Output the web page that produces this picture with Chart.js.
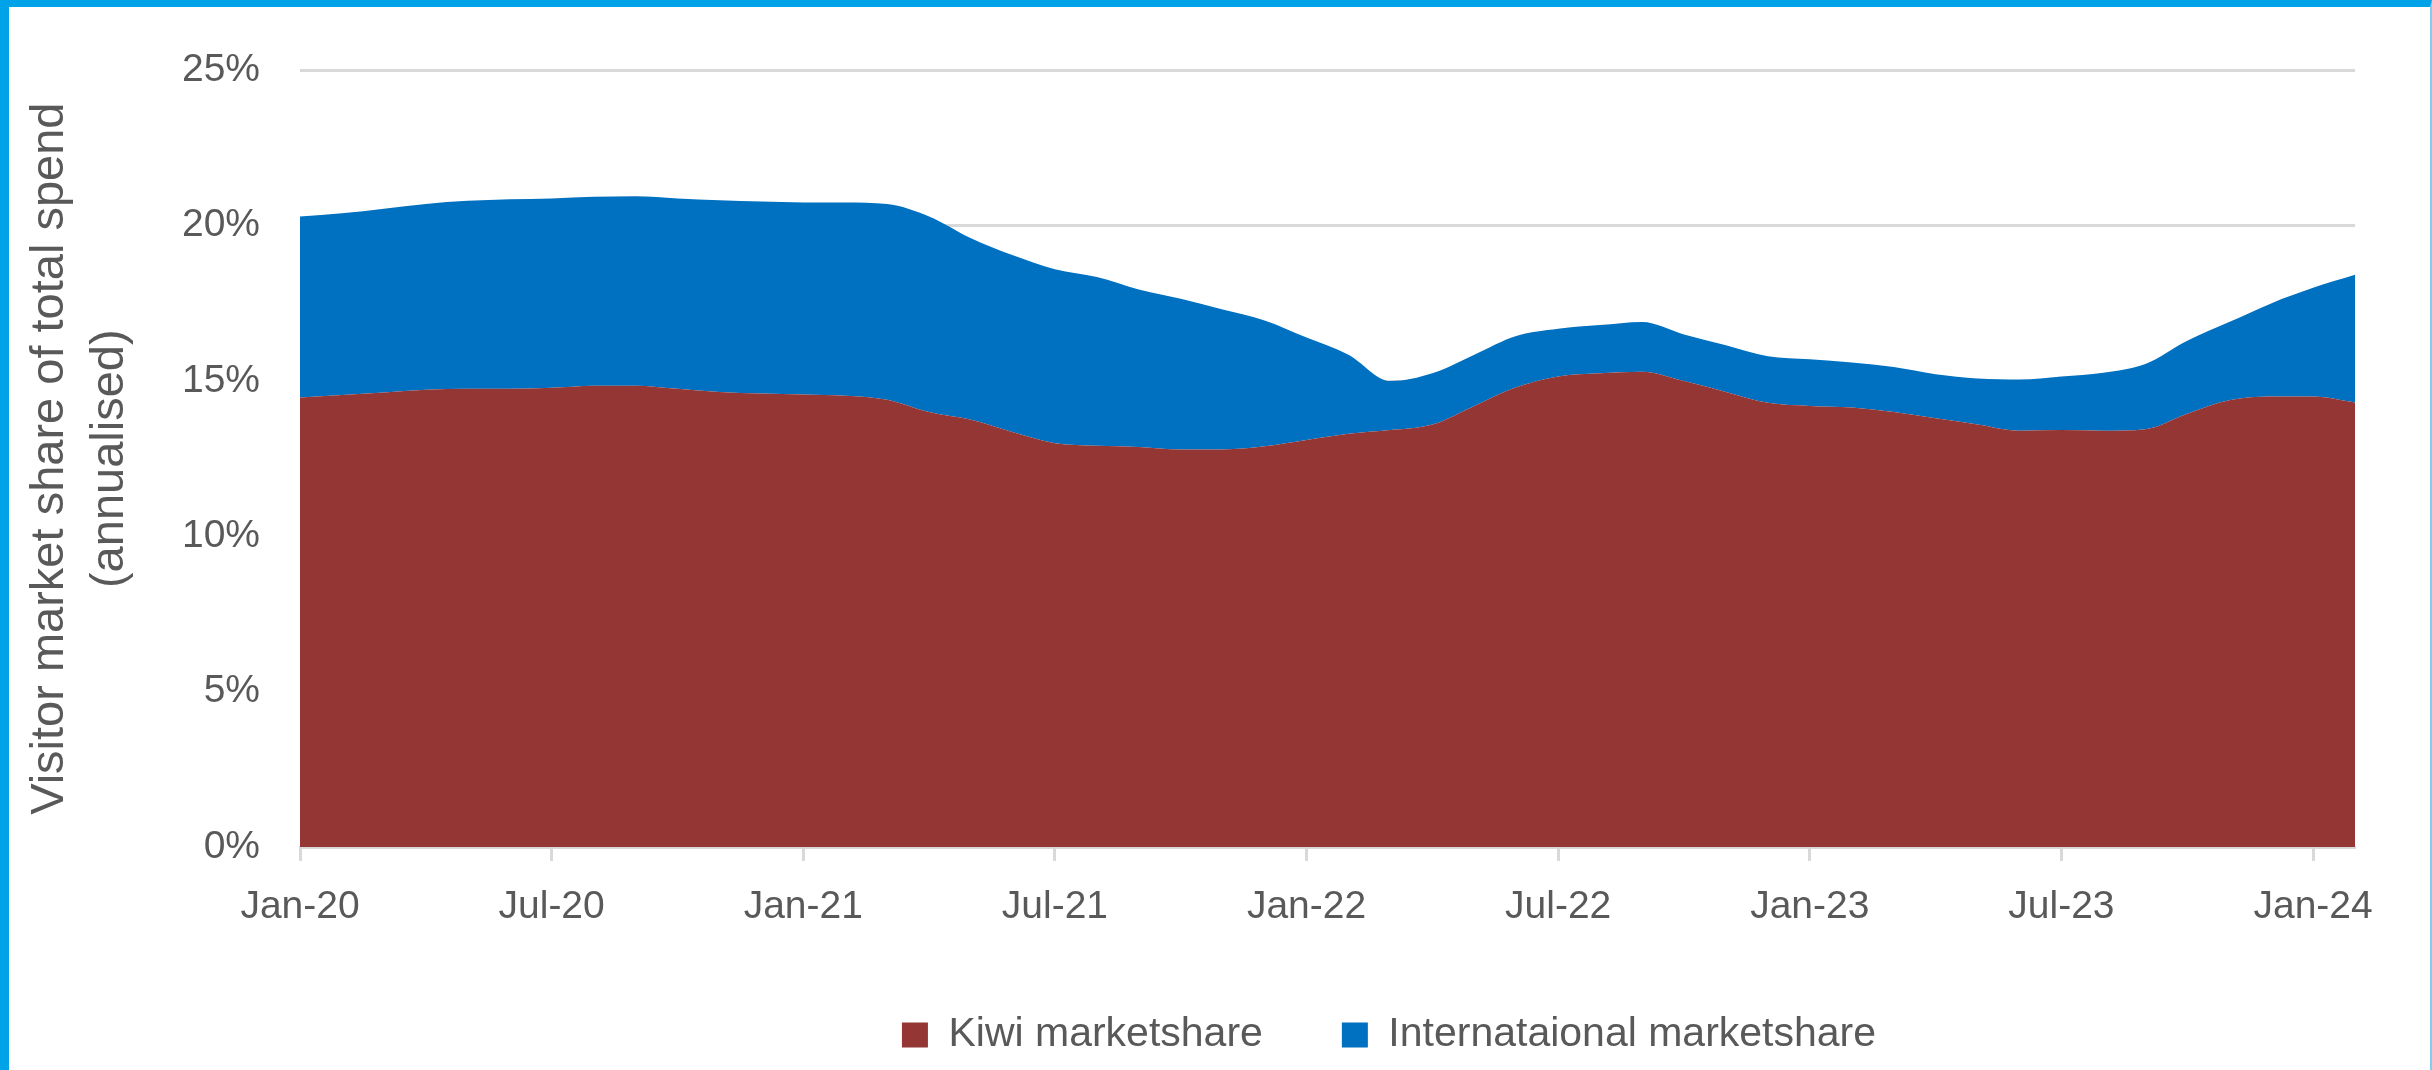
<!DOCTYPE html>
<html>
<head>
<meta charset="utf-8">
<script src="https://cdn.jsdelivr.net/npm/chart.js@4.4.0/dist/chart.umd.min.js"></script>
<style>
  html, body { margin: 0; padding: 0; background: #fff; }
  #frame {
    width: 2432px; height: 1070px; box-sizing: border-box; background: #fff;
    border-top: 7px solid #00A2E8; border-left: 9px solid #00A2E8; border-right: 2px solid #7FCDEF;
  }
  #wrap { position: relative; width: 2421px; height: 1063px; }
</style>
</head>
<body>
<div id="frame"><div id="wrap"><canvas id="myChart"></canvas></div></div>
<script>
// months Jan-20 .. Feb-24
const months = [
  'Jan-20','Feb-20','Mar-20','Apr-20','May-20','Jun-20','Jul-20','Aug-20','Sep-20','Oct-20','Nov-20','Dec-20',
  'Jan-21','Feb-21','Mar-21','Apr-21','May-21','Jun-21','Jul-21','Aug-21','Sep-21','Oct-21','Nov-21','Dec-21',
  'Jan-22','Feb-22','Mar-22','Apr-22','May-22','Jun-22','Jul-22','Aug-22','Sep-22','Oct-22','Nov-22','Dec-22',
  'Jan-23','Feb-23','Mar-23','Apr-23','May-23','Jun-23','Jul-23','Aug-23','Sep-23','Oct-23','Nov-23','Dec-23',
  'Jan-24','Feb-24'
];
const tickLabels = ['Jan-20','Jul-20','Jan-21','Jul-21','Jan-22','Jul-22','Jan-23','Jul-23','Jan-24'];

// Kiwi share (%) - top of the red area
const kiwiShare = [
  14.47, 14.55, 14.63, 14.72, 14.75, 14.75, 14.78, 14.85, 14.85, 14.75, 14.65, 14.6,
  14.57, 14.53, 14.4, 14.0, 13.75, 13.35, 13.0, 12.92, 12.88, 12.8, 12.8, 12.9,
  13.1, 13.3, 13.42, 13.6, 14.2, 14.8, 15.15, 15.25, 15.3, 15.0, 14.65, 14.3,
  14.2, 14.15, 14.0, 13.8, 13.6, 13.4, 13.42, 13.4, 13.45, 13.95, 14.38, 14.5,
  14.5, 14.31
];
// total visitor share (%) - top of the blue area (kiwi + international)
const totalShare = [
  20.3, 20.4, 20.55, 20.7, 20.8, 20.85, 20.88, 20.93, 20.95, 20.88, 20.82, 20.78,
  20.75, 20.75, 20.7, 20.3, 19.6, 19.05, 18.6, 18.35, 17.95, 17.65, 17.3, 16.95,
  16.4, 15.85, 15.0, 15.25, 15.85, 16.45, 16.68, 16.8, 16.9, 16.5, 16.15, 15.8,
  15.7, 15.6, 15.45, 15.22, 15.08, 15.05, 15.15, 15.27, 15.55, 16.3, 16.9, 17.5,
  18.0, 18.42
];

const grey = '#595959';
const gridGrey = '#D9D9D9';
Chart.defaults.font.family = "'Liberation Sans', Arial, sans-serif";
Chart.defaults.color = grey;

// move the legend to where it sits in the original
const legendShift = {
  id: 'legendShift',
  afterLayout(chart) {
    const lg = chart.legend;
    const dx = 1380 - (lg.left + lg.right) / 2;
    lg.left += dx;
    lg.right += dx;
    lg.top = 928.5;
    lg.bottom = lg.top + lg.height;
  }
};

const ctx = document.getElementById('myChart');

new Chart(ctx, {
  type: 'line',
  data: {
    labels: months,
    datasets: [{
      label: 'Kiwi marketshare',
      data: kiwiShare,
      backgroundColor: '#943634',
      borderColor: '#943634',
      borderWidth: 0,
      pointRadius: 0,
      fill: 'origin',
      cubicInterpolationMode: 'monotone'
    }, {
      label: 'Internataional marketshare',
      data: totalShare,
      backgroundColor: '#0070C0',
      borderColor: '#0070C0',
      borderWidth: 0,
      pointRadius: 0,
      fill: '-1',
      cubicInterpolationMode: 'monotone'
    }]
  },
  options: {
    responsive: true,
    maintainAspectRatio: false,
    animation: false,
    layout: { padding: { top: 54, right: 75, bottom: 0, left: 0 } },
    scales: {
      x: {
        ticks: {
          autoSkip: false,
          maxRotation: 0,
          padding: 23,
          color: grey,
          font: { size: 39 },
          // only every 6th month gets a label (and a tick mark)
          callback: (v, i) => tickLabels.includes(months[i]) ? months[i] : null
        },
        grid: {
          drawOnChartArea: false,
          drawTicks: true,
          tickLength: 14,
          tickWidth: 3,
          tickColor: gridGrey
        },
        border: { display: true, color: gridGrey, width: 3 },
        afterFit: s => { s.height = 93; }
      },
      y: {
        min: 0,
        max: 25,
        ticks: {
          stepSize: 5,
          padding: 40,
          color: grey,
          font: { size: 39 },
          callback: v => v + '%'
        },
        grid: { color: gridGrey, lineWidth: 3, drawTicks: false },
        border: { display: false },
        title: {
          display: true,
          text: ['Visitor market share of total spend', '(annualised)'],
          color: grey,
          font: { size: 47, lineHeight: 1.28 },
          padding: { top: 11, bottom: 0 }
        },
        afterFit: s => { s.width = 291; }
      }
    },
    plugins: {
      legend: {
        position: 'bottom',
        labels: {
          boxWidth: 26,
          boxHeight: 25,
          padding: 79,
          color: grey,
          font: { size: 41 }
        }
      },
      tooltip: { enabled: false }
    }
  },
  plugins: [legendShift]
});
</script>
</body>
</html>
